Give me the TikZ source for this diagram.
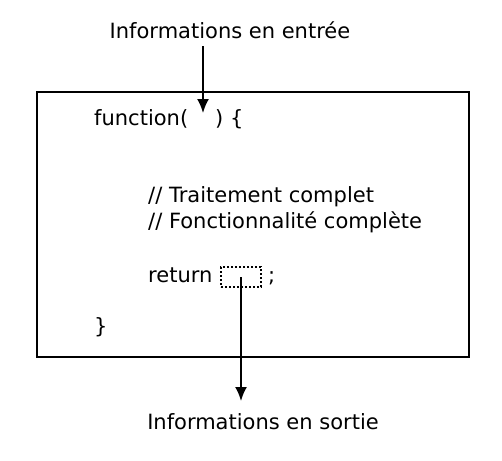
\documentclass[tikz,border=0pt]{standalone}
\usepackage{fontspec}
\setmainfont{DejaVu Sans}
\usetikzlibrary{arrows.meta, positioning}

\begin{document}
\begin{tikzpicture}[
    x=1pt, y=-1pt,
    code/.style={anchor=base west, inner sep=0pt, font=\fontsize{21}{25}\selectfont},
    info/.style={anchor=base, inner sep=0pt, font=\fontsize{21}{25}\selectfont},
    arr/.style={-{Latex[length=14pt, width=12pt]}, line width=2pt, black},
    frame/.style={draw, line width=1.8pt}
]
\useasboundingbox (0,0) rectangle (502,460);
\node[frame, minimum width=432pt, minimum height=265pt, anchor=north west, inner sep=0pt] (body) at (36,91) {};

\node[info] (in)  at (230,38)  {Informations en entrée};
\node[info] (out) at (263,429) {Informations en sortie};

\node[code] (fn)  at (94,125)  {function(\hspace{27pt}) \{};
\node[code] (c1)  at (148,202) {// Traitement complet};
\node[code] (c2)  at (148,228) {// Fonctionnalité complète};
\node[code] (rt)  at (148,282) {return};
\node[draw, dash pattern=on 2pt off 2pt, line width=1.6pt, minimum width=40pt, minimum height=20pt, inner sep=0pt] (slot) at (241,277) {};
\node[code] (semi) at (268,282) {;};
\node[code] (close) at (94,333) {\}};

\coordinate (hole) at (203,113);
\coordinate (sink) at (241,401);

\draw[arr] (hole |- 0,46) -- (hole);
\draw[arr] (slot.center) -- (sink);
\end{tikzpicture}
\end{document}
